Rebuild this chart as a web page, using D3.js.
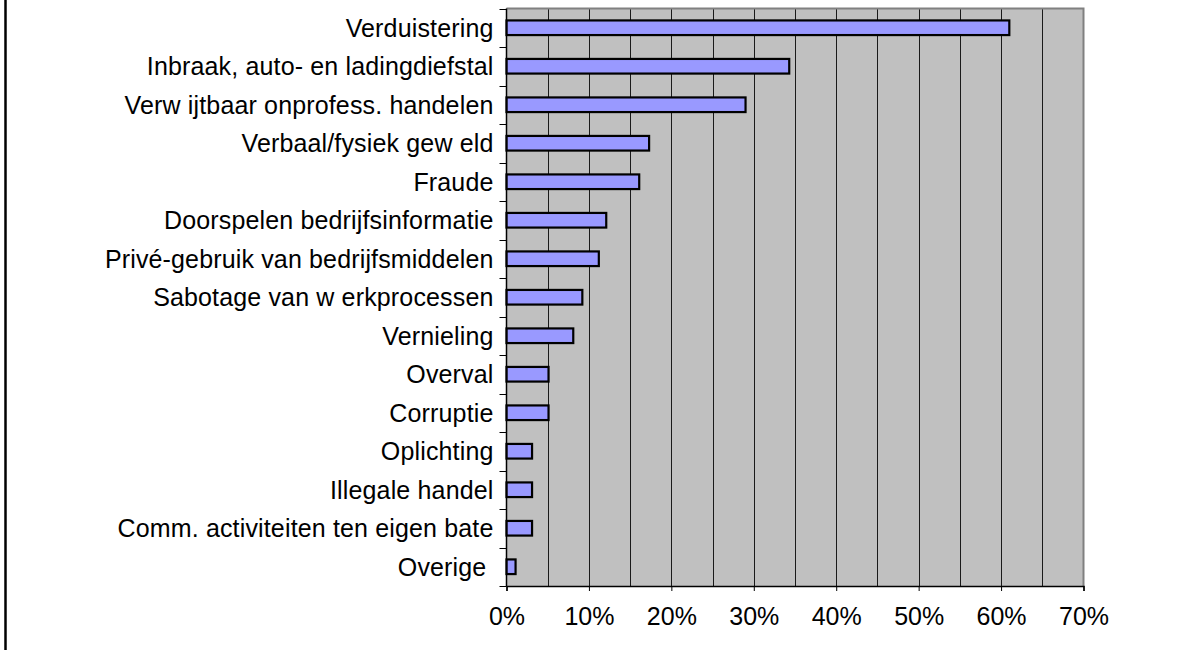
<!DOCTYPE html>
<html><head><meta charset="utf-8">
<script src="https://cdn.jsdelivr.net/npm/d3@7"></script>
<style>
html,body{margin:0;padding:0;background:#fff;}
svg{display:block;}
text{font-family:"Liberation Sans",Arial,sans-serif;fill:#000;}
</style></head>
<body>
<svg id="chart" width="1200" height="650"></svg>
<script>
const categories = [
  "Verduistering",
  "Inbraak, auto- en ladingdiefstal",
  "Verw ijtbaar onprofess. handelen",
  "Verbaal/fysiek gew eld",
  "Fraude",
  "Doorspelen bedrijfsinformatie",
  "Privé-gebruik van bedrijfsmiddelen",
  "Sabotage van w erkprocessen",
  "Vernieling",
  "Overval",
  "Corruptie",
  "Oplichting",
  "Illegale handel",
  "Comm. activiteiten ten eigen bate",
  "Overige\u00a0"
];
const values = [61, 34.3, 29, 17.3, 16.1, 12.1, 11.2, 9.2, 8.1, 5.1, 5.1, 3.1, 3.1, 3.1, 1.1];
const xTicks = [0, 10, 20, 30, 40, 50, 60, 70];
const gridValues = [5, 10, 15, 20, 25, 30, 35, 40, 45, 50, 55, 60, 65];

const svg = d3.select("#chart");
const L = 506.5, R = 1083.5, T = 8.5, B = 586;

// outer frame (only left edge visible)
svg.append("line").attr("x1", 5.5).attr("x2", 5.5).attr("y1", 0).attr("y2", 650)
  .attr("stroke", "#000").attr("stroke-width", 2.5);

const x = d3.scaleLinear().domain([0, 70]).range([L, R]);
const y = d3.scaleBand().domain(categories).range([T, B]).paddingInner(0.62).paddingOuter(0.31);

// plot background
svg.append("rect").attr("x", L).attr("y", T).attr("width", R - L).attr("height", B - T)
  .attr("fill", "#c0c0c0");

// gridlines
svg.append("g").selectAll("line").data(gridValues).join("line")
  .attr("x1", d => Math.round(x(d)) + 0.5).attr("x2", d => Math.round(x(d)) + 0.5)
  .attr("y1", T).attr("y2", B)
  .attr("stroke", "#1a1a1a").attr("stroke-width", 1);

// plot border top/right
svg.append("path")
  .attr("d", `M${L},${T} H${R} V${B}`)
  .attr("fill", "none").attr("stroke", "#808080").attr("stroke-width", 2);

// bars
svg.append("g").selectAll("rect").data(values).join("rect")
  .attr("x", x(0))
  .attr("y", (d, i) => y(categories[i]))
  .attr("width", d => x(d) - x(0))
  .attr("height", y.bandwidth())
  .attr("fill", "#9999ff")
  .attr("stroke", "#000").attr("stroke-width", 2.2);

// x axis
const xAxis = d3.axisBottom(x).tickValues(xTicks).tickFormat(d => d + "%").tickSize(5).tickPadding(16);
const gx = svg.append("g").attr("transform", `translate(0,${B})`).call(xAxis);
gx.select(".domain").attr("stroke", "#000").attr("stroke-width", 1.5);
gx.selectAll(".tick line").attr("stroke", "#000");
gx.selectAll("text").style("font-size", "25px").attr("font-family", null);

// y axis: ticks at band boundaries
const bounds = d3.range(categories.length + 1).map(i => T + i * y.step());
svg.append("g").selectAll("line").data(bounds).join("line")
  .attr("x1", L - 7).attr("x2", L).attr("y1", d => Math.round(d) + 0.5).attr("y2", d => Math.round(d) + 0.5)
  .attr("stroke", "#000").attr("stroke-width", 1);
svg.append("line").attr("x1", L).attr("x2", L).attr("y1", T).attr("y2", B)
  .attr("stroke", "#000").attr("stroke-width", 1.5);

// category labels
svg.append("g").selectAll("text").data(categories).join("text")
  .attr("x", L - 13)
  .attr("y", d => y(d) + y.bandwidth() / 2)
  .attr("dy", "0.36em")
  .attr("text-anchor", "end")
  .style("font-size", "25px")
  .style("letter-spacing", "0.15px")
  .style("white-space", "pre")
  .text(d => d);
</script>
</body></html>
